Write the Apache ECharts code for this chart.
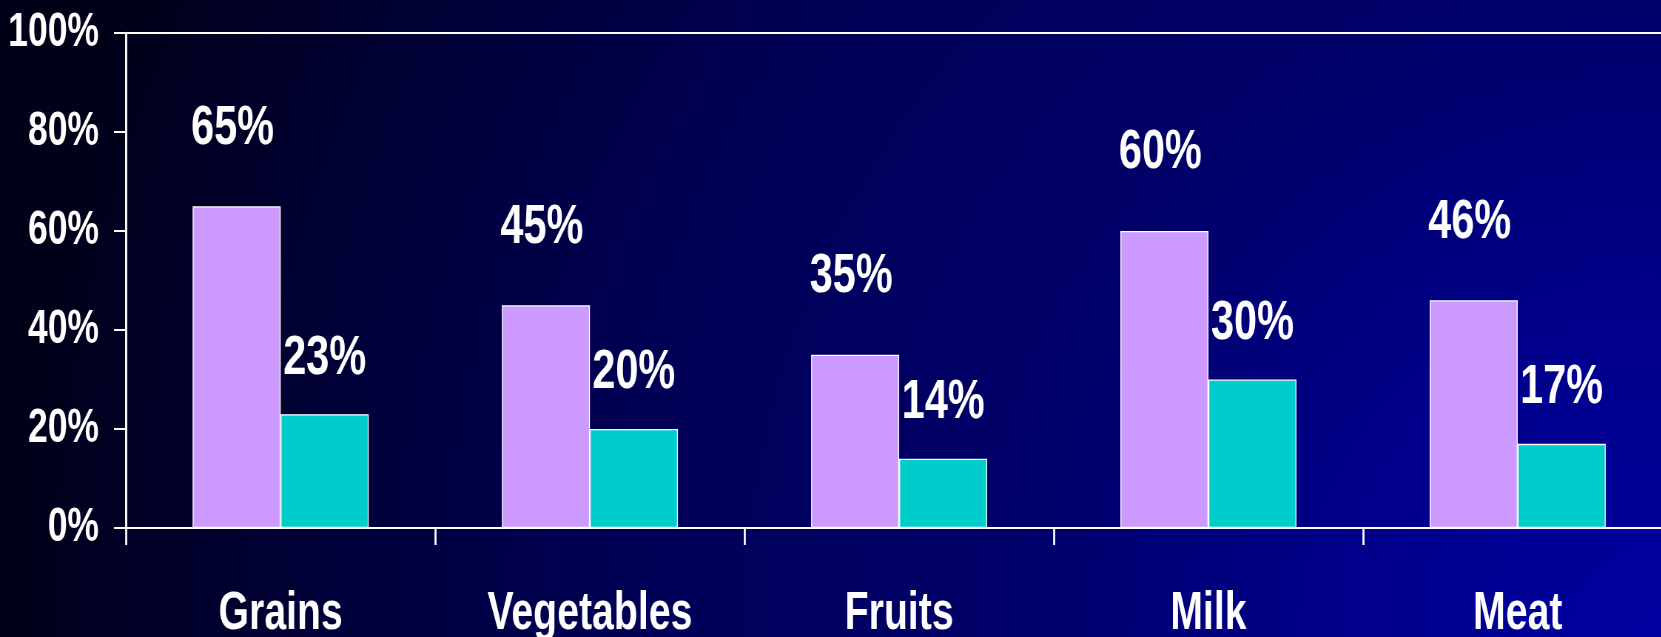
<!DOCTYPE html>
<html>
<head>
<meta charset="utf-8">
<title>Food groups</title>
<script src="https://cdn.jsdelivr.net/npm/echarts@6/dist/echarts.min.js"></script>
<style>
    html, body {
        margin: 0;
        padding: 0;
        background: #000018;
    }
    #wrap {
        width: 1661px;
        height: 637px;
        overflow: hidden;
        background: radial-gradient(circle 1780px at 100% 100%,
            #0000a0 0%, #000088 20%, #00006a 36%, #000058 57%, #00001a 93%, #000018 100%);
    }
    /* the original text is condensed, so the chart is drawn wide and squeezed */
    #graph {
        width: 2245px;
        height: 637px;
        transform: scaleX(0.74);
        transform-origin: 0 0;
    }
</style>
</head>
<body>
<div id="wrap"><div id="graph"></div></div>
<script>
    var categories = ['Grains', 'Vegetables', 'Fruits', 'Milk', 'Meat'];
    var purpleValues = [65, 45, 35, 60, 46];
    var tealValues = [23, 20, 14, 30, 17];
    var yTicks = [0, 20, 40, 60, 80, 100];

    var sx = 0.74; // horizontal squeeze
    var font = "'Liberation Sans', Arial, sans-serif";

    var option = {
        backgroundColor: 'transparent',
        animation: false,
        grid: {
            left: 126 / sx,
            top: 33,
            bottom: 109,
            right: -11 / sx,
            outerBoundsMode: 'none',
            containLabel: false,
            show: true,
            borderColor: '#ffffff',
            borderWidth: 2,
            backgroundColor: 'transparent'
        },
        xAxis: {
            type: 'category',
            data: categories,
            axisLine: {lineStyle: {color: '#ffffff', width: 2}},
            axisTick: {show: true, interval: 0, length: 17, lineStyle: {color: '#ffffff', width: 2 / sx}},
            axisLabel: {
                interval: 0,
                color: '#ffffff',
                fontFamily: font,
                fontWeight: 'bold',
                fontSize: 53,
                margin: 60
            }
        },
        yAxis: {
            type: 'value',
            min: yTicks[0],
            max: yTicks[yTicks.length - 1],
            interval: 20,
            splitLine: {show: false},
            axisLine: {show: true, lineStyle: {color: '#ffffff', width: 2 / sx}},
            axisTick: {show: true, length: 12 / sx, lineStyle: {color: '#ffffff', width: 2}},
            axisLabel: {
                color: '#ffffff',
                fontFamily: font,
                fontWeight: 'bold',
                fontSize: 48,
                margin: 27 / sx,
                formatter: '{value}%'
            }
        },
        series: [
            {
                name: 'purple',
                type: 'bar',
                data: purpleValues,
                barWidth: 88 / sx,
                barGap: '0%',
                itemStyle: {color: '#cc99ff', borderColor: '#ffffff', borderWidth: 1.3},
                label: {
                    show: true,
                    position: 'top',
                    distance: 50,
                    offset: [-4 / sx, 0],
                    formatter: '{c}%',
                    color: '#ffffff',
                    fontFamily: font,
                    fontWeight: 'bold',
                    fontSize: 56
                }
            },
            {
                name: 'teal',
                type: 'bar',
                data: tealValues,
                barWidth: 88 / sx,
                barGap: '0%',
                itemStyle: {color: '#00cccc', borderColor: '#ffffff', borderWidth: 1.3},
                label: {
                    show: true,
                    position: 'top',
                    distance: 28,
                    formatter: '{c}%',
                    color: '#ffffff',
                    fontFamily: font,
                    fontWeight: 'bold',
                    fontSize: 56
                }
            }
        ]
    };

    var chart = echarts.init(document.getElementById('graph'));
    chart.setOption(option);
</script>
</body>
</html>
